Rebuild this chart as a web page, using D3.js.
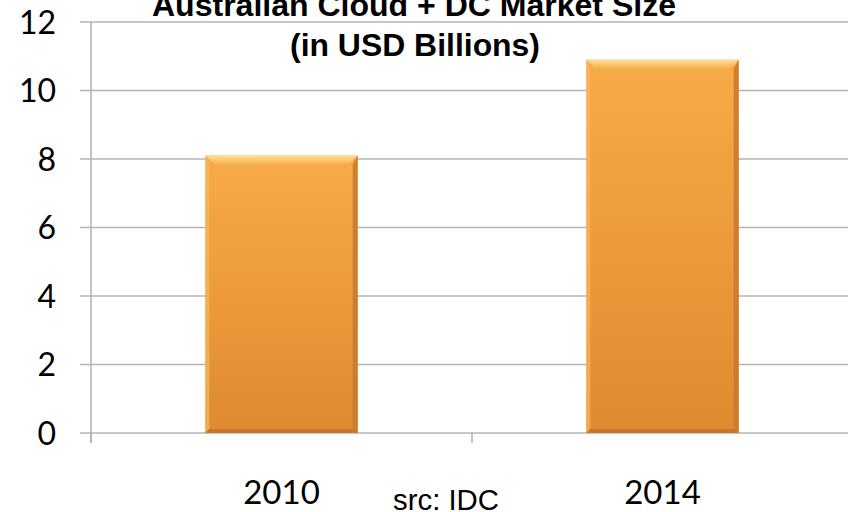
<!DOCTYPE html>
<html><head><meta charset="utf-8">
<script src="https://cdn.jsdelivr.net/npm/d3@7"></script>
<style>html,body{margin:0;padding:0;background:#fff;}svg{display:block;}</style>
</head><body>
<svg id="c" width="848" height="512"></svg>
<script>
const categories = ["2010", "2014"];
const values = [8.1, 10.9];
const yTicks = [0, 2, 4, 6, 8, 10, 12];
const titleLines = ["Australian Cloud + DC Market Size", "(in USD Billions)"];
const sourceText = "src: IDC";

const svg = d3.select("#c");
const plotLeft = 91, plotRight = 853, plotTop = 22, plotBottom = 433;
const x = d3.scaleBand().domain(categories).range([plotLeft, plotRight]).paddingInner(0.6).paddingOuter(0.3);
const xb = d3.scaleBand().domain(categories).range([plotLeft, plotRight]).padding(0);
const y = d3.scaleLinear().domain([0, 12]).range([plotBottom, plotTop]);

const defs = svg.append("defs");
const g1 = defs.append("linearGradient").attr("id","barg").attr("x1",0).attr("y1",0).attr("x2",0).attr("y2",1);
g1.append("stop").attr("offset","0%").attr("stop-color","#f7ab47");
g1.append("stop").attr("offset","100%").attr("stop-color","#de8a30");
const g2 = defs.append("linearGradient").attr("id","topg").attr("x1",0).attr("y1",0).attr("x2",0).attr("y2",1);
g2.append("stop").attr("offset","0%").attr("stop-color","#fde09a");
g2.append("stop").attr("offset","100%").attr("stop-color","#f7ad4c");

// gridlines
svg.append("g").selectAll("line").data(yTicks).join("line")
  .attr("x1", 80).attr("x2", 848).attr("y1", d=>y(d)).attr("y2", d=>y(d))
  .attr("stroke","#b3b3b3").attr("stroke-width",1.6);
// y axis line
svg.append("line").attr("x1",plotLeft).attr("x2",plotLeft).attr("y1",y(12)).attr("y2",plotBottom+10)
  .attr("stroke","#b3b3b3").attr("stroke-width",1.6);
// x category tick marks
const xTickPos = [plotLeft, xb(categories[1])];
svg.append("g").selectAll("line").data(xTickPos).join("line")
  .attr("x1", d=>d).attr("x2", d=>d).attr("y1", plotBottom).attr("y2", plotBottom+10)
  .attr("stroke","#b3b3b3").attr("stroke-width",1.6);

// y labels
svg.append("g").selectAll("text").data(yTicks).join("text")
  .attr("x", 56).attr("y", d=>y(d)+11.5).attr("text-anchor","end")
  .attr("font-family","Lato, sans-serif").attr("font-size",32).attr("fill","#000")
  .text(d=>d);

// bars
const bars = svg.append("g").selectAll("g").data(categories.map((c,i)=>({c, v:values[i]}))).join("g");
bars.append("rect").attr("x", d=>x(d.c)).attr("y", d=>y(d.v)).attr("width", x.bandwidth())
  .attr("height", d=>plotBottom - y(d.v)).attr("fill","url(#barg)");
bars.append("polygon").attr("points", d=>{
  const x0=x(d.c), x1=x0+x.bandwidth(), y0=y(d.v), b=9;
  return `${x0},${y0} ${x1},${y0} ${x1-b},${y0+b} ${x0+b},${y0+b}`;
}).attr("fill","url(#topg)");
bars.append("polygon").attr("points", d=>{
  const x0=x(d.c), x1=x0+x.bandwidth(), y0=y(d.v), b=5;
  return `${x1},${y0} ${x1},${plotBottom} ${x1-b},${plotBottom-b} ${x1-b},${y0+9}`;
}).attr("fill","#c8782a").attr("opacity",0.85);
bars.append("polygon").attr("points", d=>{
  const x0=x(d.c), y0=y(d.v), b=4;
  return `${x0},${y0} ${x0+b},${y0+9} ${x0+b},${plotBottom-b} ${x0},${plotBottom}`;
}).attr("fill","#f9b85c").attr("opacity",0.7);
bars.append("polygon").attr("points", d=>{
  const x0=x(d.c), x1=x0+x.bandwidth(), b=4;
  return `${x0},${plotBottom} ${x1},${plotBottom} ${x1-b},${plotBottom-b} ${x0+b},${plotBottom-b}`;
}).attr("fill","#c27126").attr("opacity",0.8);

// x labels
svg.append("g").selectAll("text").data(categories).join("text")
  .attr("x", d=>x(d)+x.bandwidth()/2).attr("y", 504).attr("text-anchor","middle")
  .attr("font-family","Lato, sans-serif").attr("font-size",33).attr("fill","#000")
  .text(d=>d);

// source
svg.append("text").attr("x", 393).attr("y", 510)
  .attr("font-family","'Liberation Sans', Arial, sans-serif").attr("font-size",29).attr("fill","#000")
  .attr("textLength",106).attr("lengthAdjust","spacingAndGlyphs").text(sourceText);

// title
svg.append("text").attr("x", 414).attr("y", 16).attr("text-anchor","middle")
  .attr("font-family","'Liberation Sans', Arial, sans-serif").attr("font-weight","bold").attr("font-size",31)
  .attr("textLength",524).attr("lengthAdjust","spacingAndGlyphs").text(titleLines[0]);
svg.append("text").attr("x", 415).attr("y", 56).attr("text-anchor","middle")
  .attr("font-family","'Liberation Sans', Arial, sans-serif").attr("font-weight","bold").attr("font-size",31)
  .attr("textLength",250).attr("lengthAdjust","spacingAndGlyphs").text(titleLines[1]);
</script>
</body></html>
